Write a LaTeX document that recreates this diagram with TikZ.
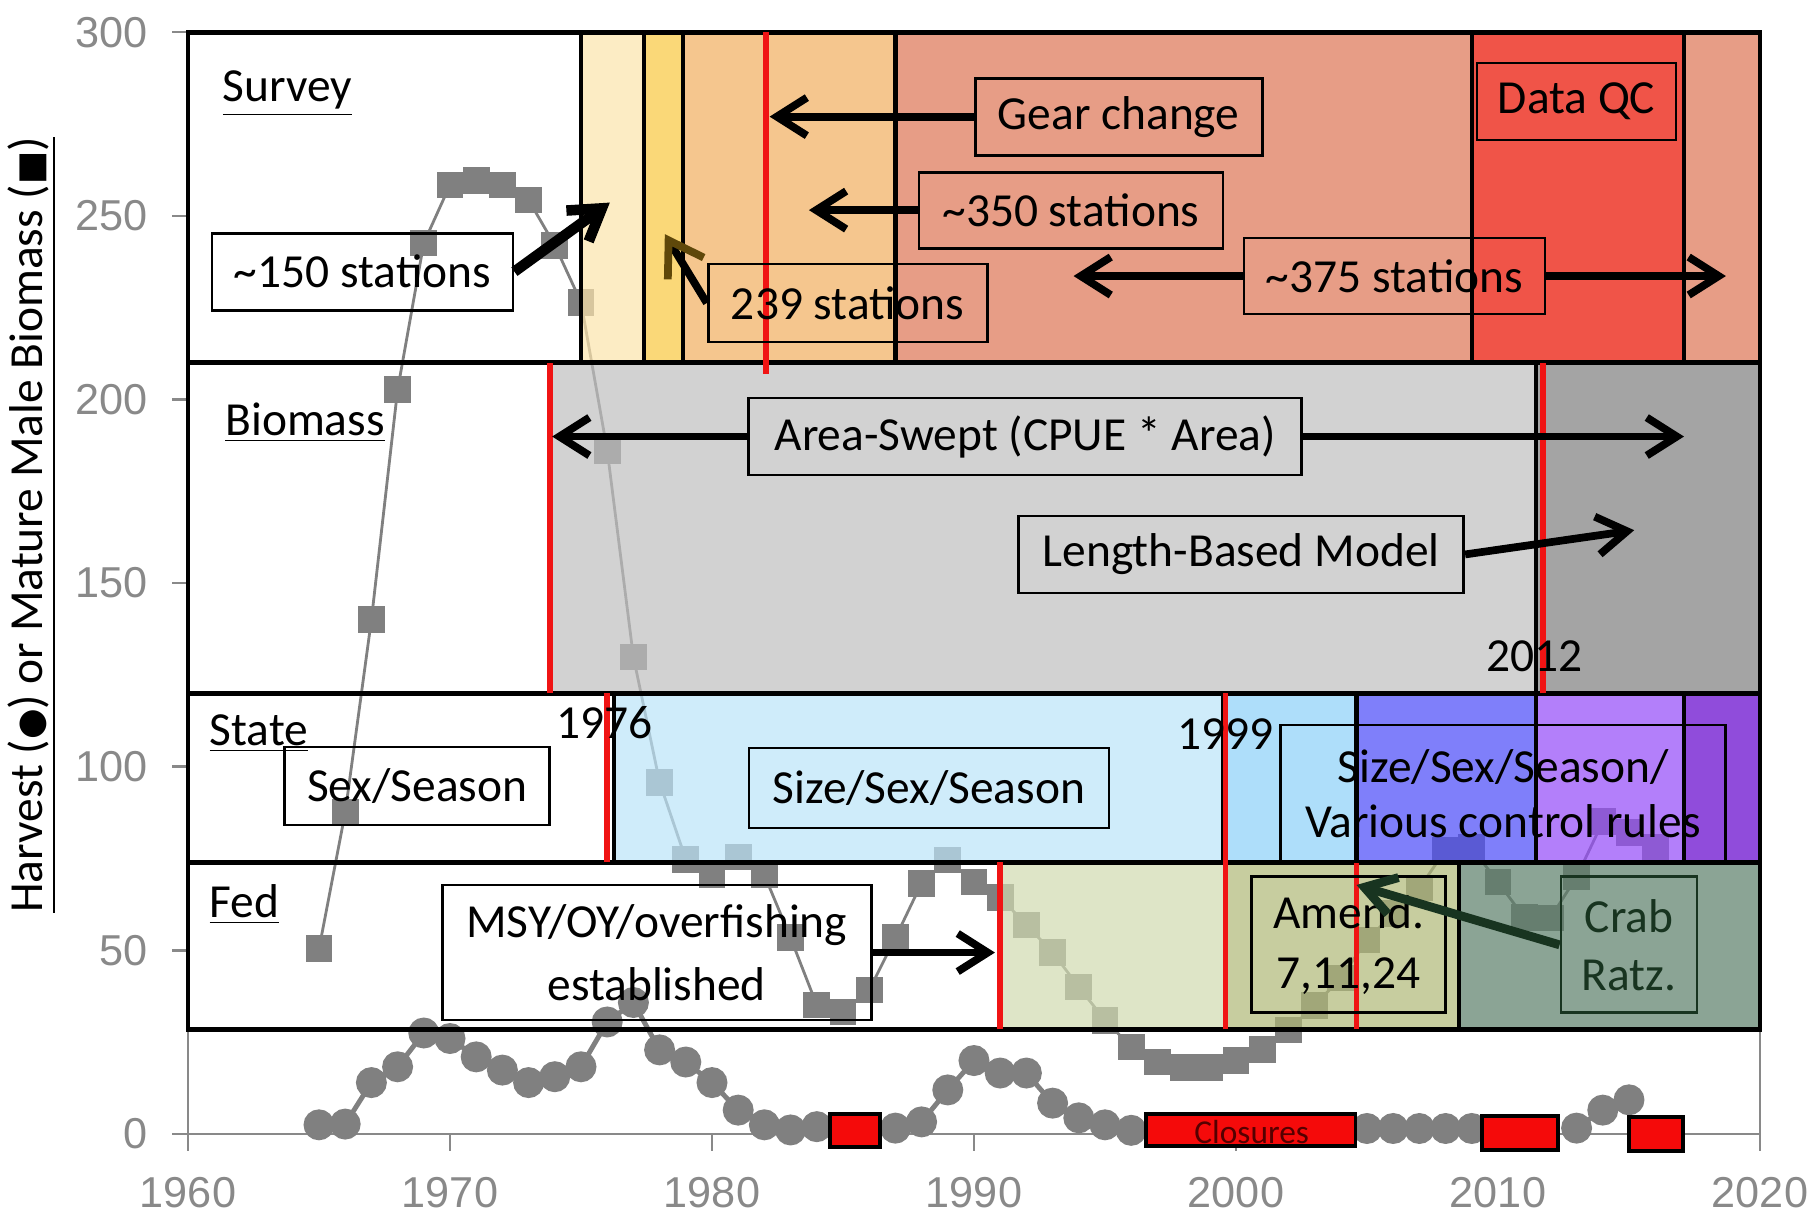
\documentclass[tikz,border=0pt]{standalone}
\usepackage{fontspec}
\setmainfont{Carlito}
\newfontfamily\axisfont{Liberation Sans}
\newfontfamily\symfont{DejaVu Sans}
\usetikzlibrary{arrows.meta,plotmarks}
\definecolor{axgray}{RGB}{137,137,137}
\definecolor{datagray}{RGB}{128,128,128}
\definecolor{sLY}{RGB}{252,228,171}
\definecolor{sYe}{RGB}{250,216,120}
\definecolor{sTan}{RGB}{245,198,142}
\definecolor{sSal}{RGB}{231,157,134}
\definecolor{sRed}{RGB}{240,84,72}
\definecolor{bG}{RGB}{192,192,192}
\definecolor{bDG}{RGB}{126,126,126}
\definecolor{stBa}{RGB}{188,228,248}
\definecolor{stBb}{RGB}{141,208,248}
\definecolor{stBV}{RGB}{74,74,248}
\definecolor{stLP}{RGB}{148,74,248}
\definecolor{stP}{RGB}{98,0,205}
\definecolor{fLO}{RGB}{208,219,176}
\definecolor{fO}{RGB}{176,184,119}
\definecolor{fDG}{RGB}{91,126,105}
\definecolor{myred}{RGB}{240,20,20}
\definecolor{clred}{RGB}{245,10,10}
\definecolor{crabgreen}{RGB}{24,52,32}
\definecolor{headbrown}{RGB}{95,72,10}
\definecolor{closuretext}{RGB}{85,0,0}
\tikzset{
  lbl/.style={font=\fontsize{13.5}{17}\selectfont},
  tbox/.style={draw, line width=0.8pt, inner sep=0pt, align=center, lbl},
  plain/.style={inner sep=0pt, align=center, lbl},
  bandline/.style={line width=1.4pt},
  tint/.style={fill opacity=0.7},
  redline/.style={draw=myred, line width=1.7pt},
  axisline/.style={draw=axgray, line width=0.7pt},
  ticklbl/.style={font=\axisfont\fontsize{12.3}{14}\selectfont, text=axgray, inner sep=0pt},
  bigarrow/.style={line width=2.2pt, -{Straight Barb[length=3mm,width=3.8mm]}},
  closure/.style={fill=clred, draw=black, line width=1.1pt},
}
\begin{document}
\begin{tikzpicture}
\useasboundingbox (0,0) rectangle (18.13,12.15);
\fill[white] (0,0) rectangle (18.13,12.15);
\node[rotate=90, inner sep=0pt, font=\fontsize{13.5}{16}\selectfont] (ylab) at (0.32,6.9)
  {\underline{Harvest ({\symfont\fontsize{10}{12}\selectfont ●}) or Mature Male Biomass ({\symfont\fontsize{10}{12}\selectfont ■})}};
\begin{scope}[shift={(1.88,0.81)}, x=0.262cm, y=0.036733cm]
% axes
\draw[axisline] (0,0) -- (60,0);
\draw[axisline] (0,-4.6) -- (0,300);
\draw[axisline] (60,-4.6) -- (60,28.5);
\foreach \v in {0,50,...,300} {
  \draw[axisline] (-0.6,\v) -- (0,\v);
  \node[ticklbl, anchor=east] (yl\v) at (-1.5,\v) {\v};
}
\foreach \t/\yr in {0/1960,10/1970,20/1980,30/1990,40/2000,50/2010,60/2020} {
  \draw[axisline] (\t,0) -- (\t,-4.6);
  \node[ticklbl] (xl\yr) at (\t,-16) {\yr};
}
% biomass series
\draw[datagray, line width=0.8pt, mark=square*, mark size=0.12cm, mark options={fill=datagray, draw=none}]
 plot coordinates {(5,50.4) (6,87.5) (7,140) (8,202.6) (9,242.6) (10,258.4) (11,259.7) (12,258.4) (13,254.3) (14,242) (15,226.5) (16,186.2) (17,129.9) (18,95.8) (19,74.8) (20,70.5) (21,75.4) (22,70.5) (23,53.4) (24,35.1) (25,33.2) (26,39.2) (27,53.4) (28,68.3) (29,74.6) (30,68.6) (31,64.5) (32,56.9) (33,49.5) (34,40) (35,31) (36,23.7) (37,19.6) (38,18) (39,18) (40,20) (41,22.9) (42,28.3) (43,35) (44,42.5) (45,52.8) (46,60) (47,67) (48,77.3) (49,77.9) (50,68.6) (51,59) (52,58.8) (53,70) (54,85) (55,82) (56,77.9)};
% harvest series
\tikzset{harv/.style={datagray, line width=1.4pt, mark=*, mark size=0.13cm, mark options={fill=datagray, draw=none}}}
\draw[harv] plot coordinates {(5,2.5) (6,2.7) (7,14) (8,18.3) (9,27.5) (10,26) (11,21) (12,17.4) (13,14) (14,15.6) (15,18.3) (16,30.5) (17,35.8) (18,22.9) (19,19.6) (20,14) (21,6.5) (22,2.5) (23,1.1) (24,2)};
\draw[harv] plot coordinates {(27,1.6) (28,3.3) (29,12) (30,20) (31,16.6) (32,16.6) (33,8.4) (34,4.4) (35,2.5) (36,1)};
\draw[harv] plot coordinates {(45,1.5) (46,1.5) (47,1.5) (48,1.5) (49,1.5)};
\draw[harv] plot coordinates {(53,1.6) (54,6.5) (55,9.3)};
% closures
\draw[closure] (24.5,-3.5) rectangle (26.4,5.4);
\draw[closure] (36.55,-3.3) rectangle (44.56,5.4);
\draw[closure] (49.4,-4.4) rectangle (52.3,4.9);
\draw[closure] (55.0,-4.6) rectangle (57.06,4.6);
\node[inner sep=0pt, text=closuretext, font=\fontsize{9.5}{10}\selectfont] (clos) at (40.6,0.6) {Closures};
% survey band fills
\fill[sLY, tint] (15,210) rectangle (17.4,300);
\fill[sYe] (17.4,210) rectangle (18.9,300);
\fill[sTan] (18.9,210) rectangle (27,300);
\fill[sSal] (27,210) rectangle (49,300);
\fill[sRed] (49,210) rectangle (57.1,300);
\fill[sSal] (57.1,210) rectangle (60,300);
% biomass band fills
\fill[bG, tint] (13.8,120) rectangle (51.45,210);
\fill[bDG, tint] (51.45,120) rectangle (60,210);
% state band fills
\fill[stBa, tint] (16.27,74) rectangle (39.5,120);
\fill[stBb, tint] (39.5,74) rectangle (44.6,120);
\fill[stBV, tint] (44.6,74) rectangle (51.45,120);
\fill[stLP, tint] (51.45,74) rectangle (57.1,120);
\fill[stP, tint] (57.1,74) rectangle (60,120);
% fed band fills
\fill[fLO, tint] (31,28.5) rectangle (39.6,74);
\fill[fO, tint] (39.6,28.5) rectangle (48.5,74);
\fill[fDG, tint] (48.5,28.5) rectangle (60,74);
% band borders
\draw[bandline] (0,210) rectangle (60,300);
\foreach \x in {15,17.4,18.9,27,49,57.1} \draw[line width=1.2pt] (\x,210) -- (\x,300);
\draw[bandline] (0,120) rectangle (60,210);
\draw[line width=1.2pt] (51.45,120) -- (51.45,210);
\draw[bandline] (0,74) rectangle (60,120);
\draw[line width=1.2pt] (16.27,74) rectangle (39.5,120);
\draw[line width=1.2pt] (44.6,74) rectangle (51.45,120);
\draw[line width=1.2pt] (51.45,74) rectangle (57.1,120);
\draw[line width=1.2pt] (57.1,74) rectangle (60,120);
\draw[bandline] (0,28.5) rectangle (60,74);
\draw[line width=1.2pt] (48.5,28.5) -- (48.5,74);
% red lines
\draw[redline] (22.06,207) -- (22.06,300);
\draw[redline] (13.8,120) -- (13.8,210);
\draw[redline] (51.72,120) -- (51.72,210);
\draw[redline] (16.0,74) -- (16.0,120);
\draw[redline] (39.6,28.5) -- (39.6,120);
\draw[redline] (31.0,28.5) -- (31.0,74);
\draw[redline] (44.6,28.5) -- (44.6,74);
% band labels
\node[plain, anchor=base west] (lsurvey) at (1.3,281) {\underline{Survey}};
\node[plain, anchor=base west] (lbiomass) at (1.4,190.3) {\underline{Biomass}};
\node[plain, anchor=base west] (lstate) at (0.8,105.9) {\underline{State}};
\node[plain, anchor=base west] (lfed) at (0.8,59) {\underline{Fed}};
% year labels
\node[plain] (y1976) at (15.9,112) {1976};
\node[plain] (y1999) at (39.6,109) {1999};
\node[plain] (y2012) at (51.4,130) {2012};
% survey boxes
\node[tbox, minimum width=3.01cm, minimum height=0.77cm] (b150) at (6.66,234.8) {\textasciitilde150 stations};
\node[tbox, minimum width=2.79cm, minimum height=0.78cm] (b239) at (25.18,226.25) {239 stations};
\node[tbox, minimum width=2.87cm, minimum height=0.77cm] (bgear) at (35.52,277) {Gear change};
\node[tbox, minimum width=3.04cm, minimum height=0.76cm] (b350) at (33.7,251.55) {\textasciitilde350 stations};
\node[tbox, minimum width=3.01cm, minimum height=0.76cm] (b375) at (46.05,233.6) {\textasciitilde375 stations};
\node[tbox, minimum width=1.99cm, minimum height=0.77cm] (bqc) at (53.0,281.1) {Data QC};
\coordinate (t150) at (16.1,253.6);
\coordinate (t239) at (18.2,245);
\coordinate (tgear) at (22.2,277);
\coordinate (t350) at (23.7,251.55);
\coordinate (t375a) at (33.8,233.6);
\coordinate (t375b) at (58.7,233.6);
\draw[bigarrow, line width=3pt] (b150.east) -- (t150);
\draw[line width=2.2pt, -{Straight Barb[length=3.3mm,width=4.2mm,color=headbrown]}] (b239.west) -- (t239);
\draw[bigarrow] (bgear.west) -- (tgear);
\draw[bigarrow] (b350.west) -- (t350);
\draw[bigarrow] (b375.west) -- (t375a);
\draw[bigarrow] (b375.east) -- (t375b);
% biomass boxes
\node[tbox, minimum width=5.53cm, minimum height=0.77cm] (barea) at (31.95,189.9) {Area-Swept (CPUE * Area)};
\node[tbox, minimum width=4.45cm, minimum height=0.77cm] (blbm) at (40.2,157.8) {Length-Based Model};
\coordinate (tareal) at (13.9,189.9);
\coordinate (tarear) at (57.1,189.9);
\coordinate (tlbm) at (55.2,164.4);
\draw[bigarrow] (barea.west) -- (tareal);
\draw[bigarrow] (barea.east) -- (tarear);
\draw[bigarrow] (blbm.east) -- (tlbm);
% state boxes
\node[tbox, minimum width=2.65cm, minimum height=0.78cm] (bsex) at (8.75,94.75) {Sex/Season};
\node[tbox, minimum width=3.60cm, minimum height=0.80cm] (bsize) at (28.28,94.2) {Size/Sex/Season};
\node[tbox, minimum width=4.45cm, minimum height=1.37cm, font=\fontsize{13.5}{15.5}\selectfont] (bvar) at (50.2,92.7) {Size/Sex/Season/\\Various control rules};
% fed boxes
\node[tbox, minimum width=4.29cm, minimum height=1.35cm, font=\fontsize{13.5}{18}\selectfont] (bmsy) at (17.89,49.4) {MSY/OY/overfishing\\established};
\node[tbox, minimum width=1.94cm, minimum height=1.36cm, font=\fontsize{13.5}{17}\selectfont] (bamend) at (44.3,51.5) {Amend.\\7,11,24};
\node[tbox, draw=crabgreen, text=crabgreen, minimum width=1.36cm, minimum height=1.36cm, font=\fontsize{13.5}{16.5}\selectfont] (bcrab) at (55.0,51.5) {Crab\\Ratz.};
\coordinate (tmsy) at (30.8,49.4);
\coordinate (tcrab) at (44.6,67.8);
\draw[bigarrow] (bmsy.east) -- (tmsy);
\draw[bigarrow, draw=crabgreen, line width=2.5pt] (bcrab.west) -- (tcrab);
\end{scope}
\end{tikzpicture}
\end{document}
